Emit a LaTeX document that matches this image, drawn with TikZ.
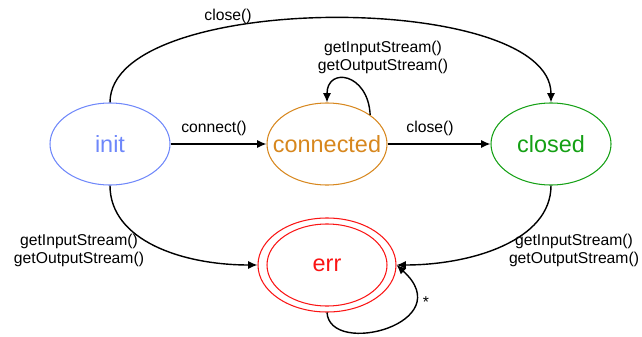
\documentclass[tikz,border=0pt]{standalone}
\usepackage{fontspec}
\setmainfont{Liberation Sans}
\usetikzlibrary{arrows.meta,shapes.geometric}
\definecolor{cinit}{RGB}{110,135,250}
\definecolor{cconn}{RGB}{215,135,30}
\definecolor{cclosed}{RGB}{20,160,20}
\definecolor{cerr}{RGB}{250,20,20}
\tikzset{
  state/.style={ellipse, draw, line width=0.9pt, minimum width=3.6cm, minimum height=2.46cm, inner sep=0pt, font=\fontsize{20}{24}\selectfont},
  trans/.style={draw, line width=1.2pt, -{Latex[length=8pt,width=7pt]}},
  lbl/.style={font=\fontsize{13.4}{15.3}\selectfont, align=center, inner sep=0pt},
}
\begin{document}
\begin{tikzpicture}[x=0.03cm,y=-0.03cm]
\useasboundingbox (0,0) rectangle (642,337);
\node[state, draw=cinit, text=cinit] (init) at (110,144) {\makebox[0pt]{init}};
\node[state, draw=cconn, text=cconn] (conn) at (327,144) {\makebox[0pt]{connected}};
\node[state, draw=cclosed, text=cclosed] (closed) at (551,144) {\makebox[0pt]{closed}};
\node[state, draw=cerr, minimum width=4.14cm, minimum height=2.82cm] (err) at (327,265) {};
\node[state, draw=cerr, text=cerr] (errin) at (327,265) {\makebox[0pt]{err}};

\draw[trans] (init) -- (conn);
\node[lbl] (l1) at (214,128) {connect()};
\draw[trans] (conn) -- (closed);
\node[lbl] (l2) at (430,128) {close()};
\draw[trans] (init.north) .. controls +(0,-112) and +(0,-112) .. (closed.north);
\node[lbl] (l3) at (228,16) {close()};
\draw[trans] (conn.34) .. controls +(-2,-42) and +(0,-36) .. (conn.north);
\node[lbl] (l4) at (383,57.5) {getInputStream()\\getOutputStream()};
\draw[trans] (init.south) .. controls +(0,55) and +(-75,0) .. (err.west);
\node[lbl] (l5) at (79,250) {getInputStream()\\getOutputStream()};
\draw[trans] (closed.south) .. controls +(0,55) and +(75,0) .. (err.east);
\node[lbl] (l6) at (574,250) {getInputStream()\\getOutputStream()};
\draw[trans] (err.south) .. controls +(3,45) and +(64,58) .. (err.east);
\node[lbl] (l7) at (426,302) {*};
\end{tikzpicture}
\end{document}
